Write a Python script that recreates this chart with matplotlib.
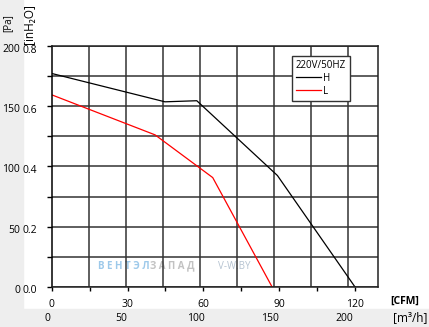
import numpy as np
import matplotlib.pyplot as plt
import matplotlib.transforms as mtransforms
from matplotlib.patches import Rectangle
from matplotlib.ticker import FixedLocator

plt.rcParams['font.family'] = ['Open Sans', 'DejaVu Sans']

# ======================================
# DATOS
# ======================================

# curva H
h_cfm = [0, 44.8, 57.4, 89.3, 120]
h_pa = [177, 153.5, 154.4, 92.4, 0]

# curva L
l_cfm = [0, 40.9, 63.7, 87.2]
l_pa = [159.3, 126.1, 90.7, 0]

series_names = ['H', 'L']
legend_title = '220V/50HZ'

cfm_ticks = [0, 15, 30, 45, 60, 75, 90, 105, 120]
cfm_labels = ['0', '', '30', '', '60', '', '90', '', '120']
m3h_ticks = [0, 50, 100, 150, 200]
pa_ticks = [0, 25, 50, 75, 100, 125, 150, 175, 200]
pa_labels = ['0', '', '50', '', '100', '', '150', '', '200']
inh2o_ticks = [0.0, 0.2, 0.4, 0.6, 0.8]

CFM_TO_M3H = 1.699
PA_PER_INH2O = 249.09

# ======================================
# FIGURA
# ======================================

fig = plt.figure(figsize=(4.29, 3.27), dpi=100)
fig.patch.set_facecolor('white')
ax = fig.add_axes([0.1205, 0.1223, 0.7613, 0.7379])

# franjas grises de fondo
fig.patches.append(Rectangle((0, 0), 23 / 429, 1, transform=fig.transFigure,
                             color='#eeeeee', zorder=-1))
fig.patches.append(Rectangle((0, 0), 1, 18 / 327, transform=fig.transFigure,
                             color='#eeeeee', zorder=-1))

ax.set_xlim(0, 129.2)
ax.set_ylim(0, 200)
ax.set_axisbelow(True)

# rejilla
ax.set_yticks(pa_ticks)
ax.set_yticklabels(pa_labels)
ax.set_xticks(cfm_ticks)
ax.set_xticklabels(cfm_labels)
ax.xaxis.set_minor_locator(FixedLocator(np.arange(9) * 14.65))
ax.grid(True, which='major', axis='y', color='#333333', lw=1.1)
ax.grid(True, which='minor', axis='x', color='#333333', lw=1.1)
ax.tick_params(which='minor', length=0)

ax.tick_params(axis='y', length=3.5, width=1, pad=19.2, labelsize=7.5)
ax.tick_params(axis='x', length=3, width=1, pad=5.4, labelsize=7.5)

for sp in ax.spines.values():
    sp.set_color('#222222')
    sp.set_linewidth(1.1)
ax.spines['left'].set_color('black')

off_y = mtransforms.ScaledTranslation(0, -2 / 100, fig.dpi_scale_trans)
for t in ax.get_yticklabels():
    t.set_transform(t.get_transform() + off_y)

# eje secundario inH2O
sec_y = ax.secondary_yaxis('left', functions=(lambda p: p / PA_PER_INH2O,
                                               lambda i: i * PA_PER_INH2O))
sec_y.set_yticks(inh2o_ticks)
sec_y.set_yticklabels([f'{v:.1f}' for v in inh2o_ticks])
sec_y.tick_params(length=0, pad=21, labelsize=7.5)
sec_y.spines['left'].set_visible(False)
for t in sec_y.get_yticklabels():
    t.set_ha('left')
    t.set_transform(t.get_transform() + off_y)

# eje secundario m3/h
sec_x = ax.secondary_xaxis('bottom', functions=(lambda c: c * CFM_TO_M3H,
                                                 lambda m: m / CFM_TO_M3H))
sec_x.set_xticks(m3h_ticks)
sec_x.tick_params(length=0, pad=19, labelsize=7.5)
sec_x.spines['bottom'].set_visible(False)
off_x = mtransforms.ScaledTranslation(-4.5 / 100, 0, fig.dpi_scale_trans)
for t in sec_x.get_xticklabels():
    t.set_transform(t.get_transform() + off_x)

# marca de agua
ax.text(0.142, 0.087, 'В Е Н Т Э Л', transform=ax.transAxes, color='#9dc9ea',
        fontweight='bold', fontsize=7, va='center', zorder=0.3)
ax.text(0.301, 0.087, 'З А П А Д', transform=ax.transAxes, color='#c2c2c2',
        fontweight='bold', fontsize=7, va='center', zorder=0.3)
ax.text(0.509, 0.087, 'V-W.BY', transform=ax.transAxes, color='#b5c3d1',
        fontsize=7, va='center', zorder=0.3)

# curvas
ax.plot(h_cfm, h_pa, color='black', lw=0.9, label=series_names[0])
ax.plot(l_cfm, l_pa, color='#ff0000', lw=0.9, label=series_names[1])

leg = ax.legend(title=legend_title, loc='upper left', bbox_to_anchor=(0.735, 0.958),
                fancybox=False, edgecolor='#333333', framealpha=1, fontsize=7,
                title_fontsize=7, handlelength=2.6, handletextpad=0.2,
                labelspacing=0.2, borderpad=0.4, borderaxespad=0, alignment='left')
leg.get_frame().set_linewidth(1.0)
leg.set_zorder(5)

# etiquetas de ejes
fig.text(7.7 / 429, 1 - 23 / 327, '[Pa]', rotation=90, ha='center', va='center',
         fontsize=7)
fig.text(29 / 429, 1 - 24 / 327, '[inH₂O]', rotation=90, ha='center', va='center',
         fontsize=8.5)
fig.text(390 / 429, 1 - 301.7 / 327, '[CFM]', ha='left', va='center',
         fontsize=7.5, fontweight='bold')
fig.text(393 / 429, 1 - 317.7 / 327, '[m³/h]', ha='left', va='center',
         fontsize=8.5)

plt.savefig('out.png', dpi=100)
